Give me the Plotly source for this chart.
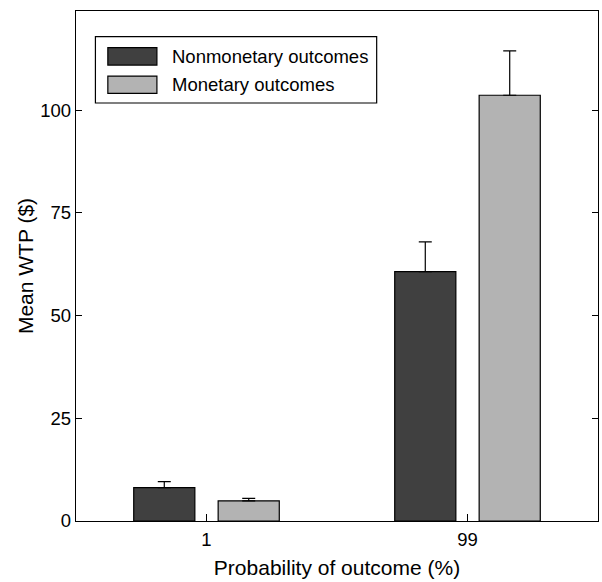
import plotly.graph_objects as go

categories = ["1", "99"]
nonmonetary = [8.1, 60.7]
nonmonetary_err = [1.5, 7.2]
monetary = [4.9, 103.6]
monetary_err = [0.6, 10.8]
series_names = ["Nonmonetary outcomes", "Monetary outcomes"]
y_ticks = [0, 25, 50, 75, 100]

dark = "#404040"
light = "#b3b3b3"
FONT = "Liberation Sans, Arial, sans-serif"

fig = go.Figure()
for name, vals, errs, col in [(series_names[0], nonmonetary, nonmonetary_err, dark),
                              (series_names[1], monetary, monetary_err, light)]:
    fig.add_trace(go.Bar(
        x=categories, y=vals, name=name,
        marker=dict(color=col, line=dict(color="black", width=1.2)),
        error_y=dict(type="data", array=errs, symmetric=False, arrayminus=[0]*len(errs),
                     color="black", thickness=1.2, width=6.5),
        showlegend=False,
    ))

# custom legend (box + swatches + labels) in axis-domain coordinates
fig.add_shape(type="rect", xref="x domain", yref="y domain",
              x0=0.0372, x1=0.576, y0=0.8196, y1=0.9496,
              line=dict(color="black", width=1.2), fillcolor="white", layer="above")
rows = [(0.928, 0.894, dark), (0.8725, 0.8386, light)]
for (y1, y0, col), name in zip(rows, series_names):
    fig.add_shape(type="rect", xref="x domain", yref="y domain",
                  x0=0.061, x1=0.155, y0=y0, y1=y1,
                  line=dict(color="black", width=1.2), fillcolor=col, layer="above")
    fig.add_annotation(xref="x domain", yref="y domain", x=0.1797, y=(y0 + y1) / 2,
                       text=name, showarrow=False, xanchor="left", yanchor="middle",
                       font=dict(family=FONT, size=18.5, color="black"))

fig.update_layout(
    width=602, height=582,
    margin=dict(l=76, r=4, t=11, b=61),
    paper_bgcolor="white", plot_bgcolor="white",
    barmode="group", bargap=0.353, bargroupgap=0.276,
    font=dict(family=FONT, size=18.5, color="black"),
)
fig.update_xaxes(
    type="category", range=[-0.5, 1.5],
    showline=True, linecolor="black", linewidth=1.3, mirror=True,
    ticks="inside", ticklen=7, tickcolor="black", tickwidth=1.2,
    showgrid=False, zeroline=False, ticklabelstandoff=2,
    title=dict(text="Probability of outcome (%)", font=dict(size=21), standoff=10),
    tickfont=dict(size=18.5),
)
fig.update_yaxes(
    range=[0, 124.1], tickvals=y_ticks,
    showline=True, linecolor="black", linewidth=1.3, mirror="ticks",
    ticks="inside", ticklen=6, tickcolor="black", tickwidth=1.2,
    showgrid=False, zeroline=False,
    title=dict(text="Mean WTP ($)", font=dict(size=21), standoff=0),
    tickfont=dict(size=18.5),
)

fig.write_html("out.html")
